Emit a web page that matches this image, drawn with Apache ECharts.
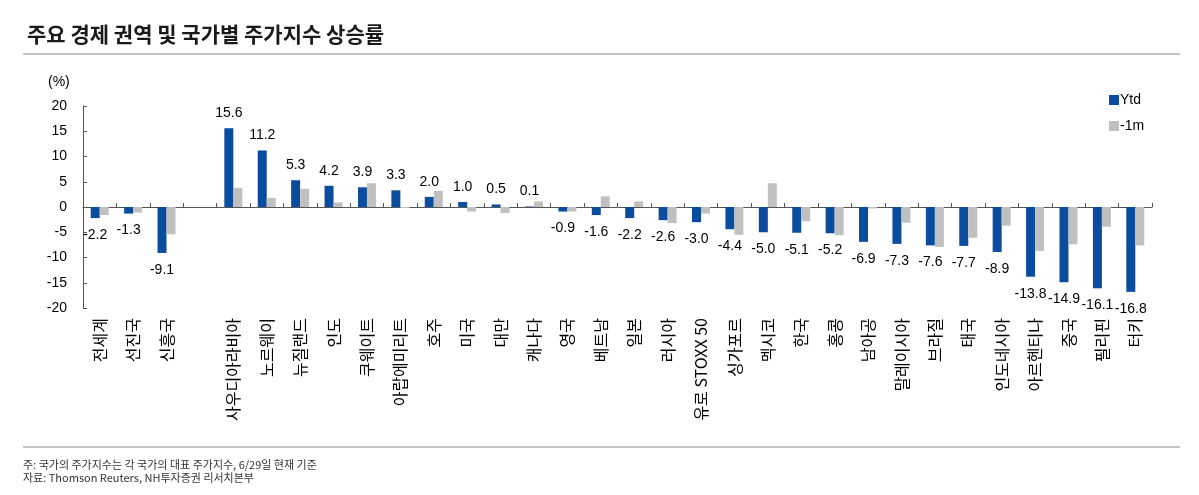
<!DOCTYPE html>
<html>
<head>
<meta charset="utf-8">
<script src="https://cdn.jsdelivr.net/npm/echarts@6/dist/echarts.min.js"></script>
<style>
html,body{margin:0;padding:0;background:#fff;}
#c{width:1199px;height:495px;}
</style>
</head>
<body>
<div id="c"></div>
<script>
var categories = ['전세계','선진국','신흥국','','사우디아라비아','노르웨이','뉴질랜드','인도','쿠웨이트','아랍에미리트','호주','미국','대만','캐나다','영국','베트남','일본','러시아','유로 STOXX 50','싱가포르','멕시코','한국','홍콩','남아공','말레이시아','브라질','태국','인도네시아','아르헨티나','중국','필리핀','터키'];
var ytd = [-2.2,-1.3,-9.1,null,15.6,11.2,5.3,4.2,3.9,3.3,2.0,1.0,0.5,0.1,-0.9,-1.6,-2.2,-2.6,-3.0,-4.4,-5.0,-5.1,-5.2,-6.9,-7.3,-7.6,-7.7,-8.9,-13.8,-14.9,-16.1,-16.8];
var m1 = [-1.6,-1.1,-5.4,null,3.8,1.8,3.6,0.9,4.7,-0.2,3.2,-0.9,-1.2,1.1,-0.9,2.1,1.1,-3.2,-1.3,-5.5,4.7,-2.8,-5.6,-0.3,-3.1,-7.9,-6.1,-3.7,-8.7,-7.4,-3.9,-7.6];
var yTicks = {min:-20, max:20, interval:5};

var fontLatin = 'Liberation Sans, Arial, "Noto Sans CJK KR", sans-serif';
var fontKr = '"Noto Sans CJK KR", "Liberation Sans", sans-serif';

var ytdData = ytd.map(function(v){
  if (v === null) return null;
  return {value: v, label: {position: v >= 0 ? 'top' : 'bottom', distance: v >= 0 ? 8 : 10}};
});

var chart = echarts.init(document.getElementById('c'), null, {renderer:'canvas'});
chart.setOption({
  animation: false,
  backgroundColor: '#fff',
  title: {
    text: '주요 경제 권역 및 국가별 주가지수 상승률',
    left: 22, top: 19,
    textStyle: {fontFamily: fontKr, fontSize: 21, fontWeight: 'bold', color: '#1a1a1a'}
  },
  legend: {
    orient: 'vertical',
    left: 1104, top: 88,
    itemWidth: 10, itemHeight: 10, itemGap: 12,
    icon: 'rect',
    textStyle: {fontFamily: fontLatin, fontSize: 14, color: '#000', padding: [0,0,0,-4]},
    data: ['Ytd','-1m']
  },
  grid: {left: 83, right: 47, top: 106, bottom: 187, containLabel: false},
  xAxis: [{
    type: 'category',
    data: categories,
    axisLine: {onZero: true, lineStyle: {color: '#555', width: 1}},
    axisTick: {show: true, inside: true, length: 4, interval: 0, lineStyle: {color: '#555'}},
    axisLabel: {show: false},
    splitLine: {show: false}
  },{
    type: 'category',
    position: 'bottom',
    data: categories,
    axisLine: {show: false, onZero: false},
    axisTick: {show: false},
    axisLabel: {show: true, interval: 0, rotate: 90, margin: 10, fontFamily: fontKr, fontSize: 16, color: '#000'},
    splitLine: {show: false}
  }],
  yAxis: {
    type: 'value',
    min: yTicks.min, max: yTicks.max, interval: yTicks.interval,
    axisLine: {show: true, lineStyle: {color: '#555'}},
    axisTick: {show: true, inside: true, length: 4, lineStyle: {color: '#555'}},
    axisLabel: {margin: 16, fontFamily: fontLatin, fontSize: 14, color: '#000'},
    splitLine: {show: false}
  },
  series: [{
    name: 'Ytd',
    type: 'bar',
    xAxisIndex: 0,
    data: ytdData,
    barWidth: 9,
    barGap: '0%',
    itemStyle: {color: '#0A4C9E'},
    label: {show: true, fontFamily: fontLatin, fontSize: 14, color: '#000',
      formatter: function(p){ return p.value.toFixed(1); }}
  },{
    name: '-1m',
    type: 'bar',
    xAxisIndex: 0,
    data: m1,
    barWidth: 9,
    barGap: '0%',
    itemStyle: {color: '#C0C0C0'}
  }],
  graphic: [
    {type:'line', shape:{x1:23, y1:54, x2:1180, y2:54}, style:{stroke:'#c4c4c4', lineWidth:2}},
    {type:'line', shape:{x1:23, y1:447, x2:1180, y2:447}, style:{stroke:'#c4c4c4', lineWidth:2}},
    {type:'text', left: 48, top: 75, style:{text:'(%)', font:'14px ' + fontLatin, fill:'#000'}},
    {type:'text', left: 23, top: 459, style:{text:'주: 국가의 주가지수는 각 국가의 대표 주가지수, 6/29일 현재 기준', font:'11px ' + fontKr, fill:'#333'}},
    {type:'text', left: 23, top: 472, style:{text:'자료: Thomson Reuters, NH투자증권 리서치본부', font:'11px ' + fontKr, fill:'#333'}}
  ]
});
</script>
</body>
</html>
